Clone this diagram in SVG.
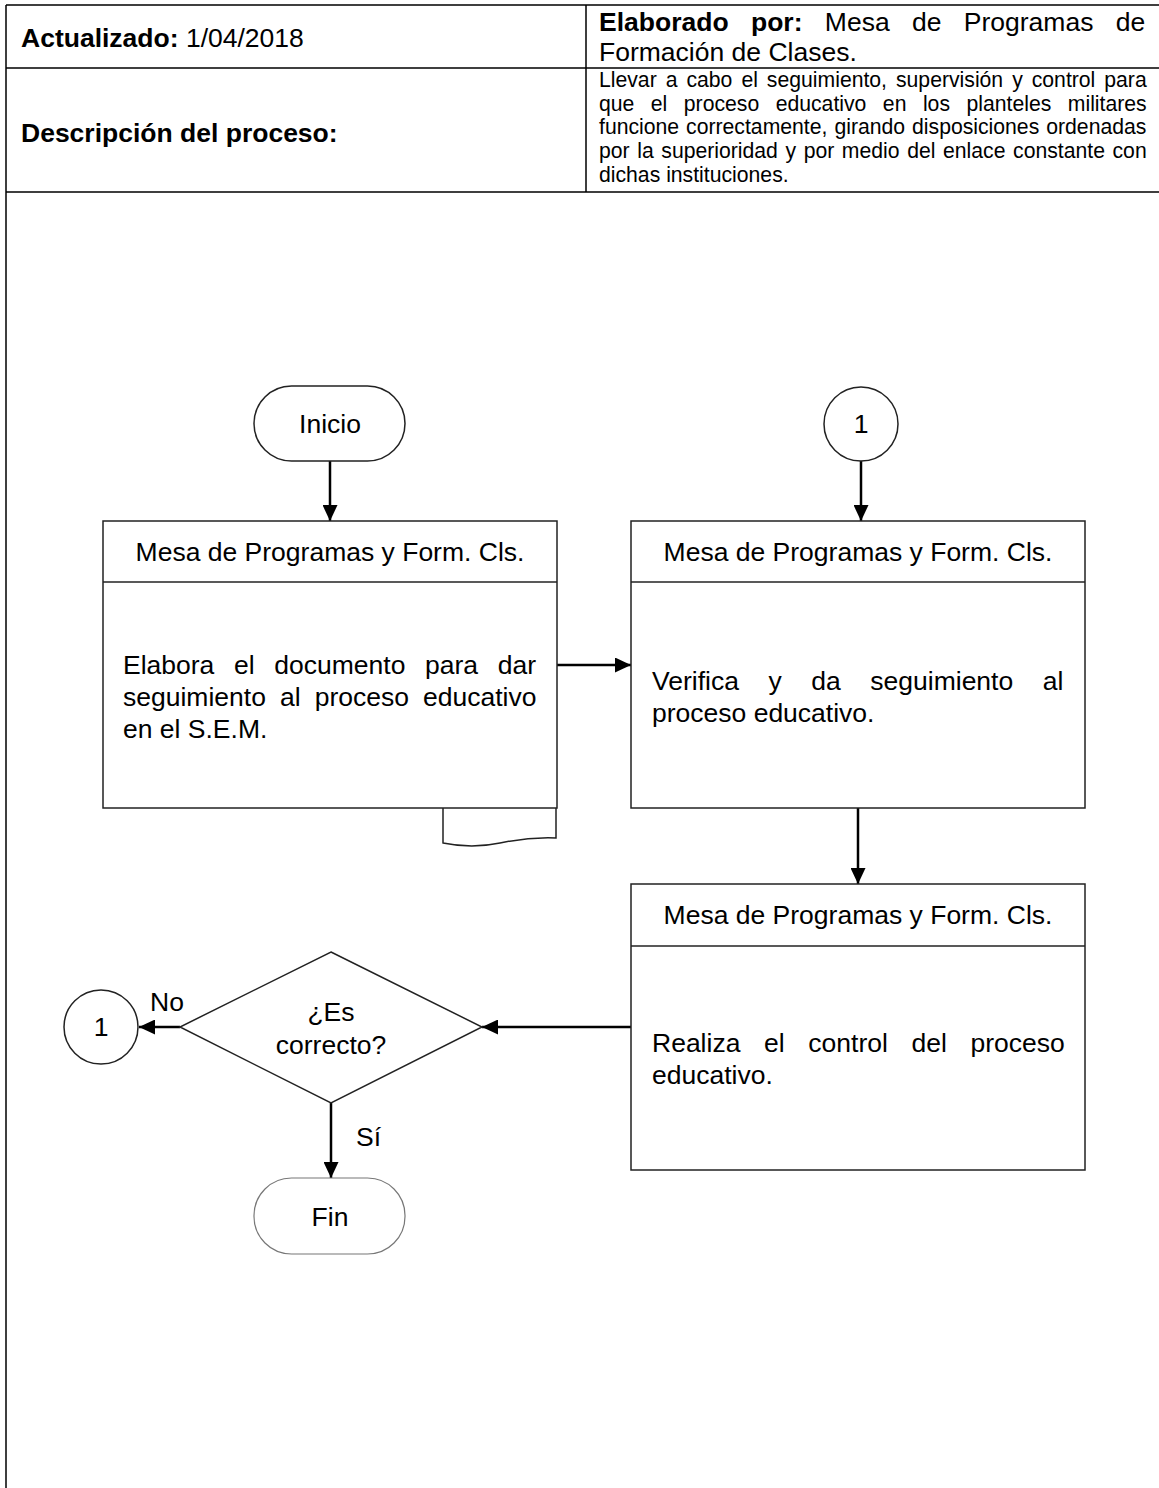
<svg xmlns="http://www.w3.org/2000/svg" width="1159" height="1488" viewBox="0 0 1159 1488">
<style>
text{font-family:"Liberation Sans",Arial,sans-serif;fill:#000}
.h{font-size:26.5px}
.d{font-size:21.2px}
.b{font-weight:bold}
.grid{stroke:#000;stroke-width:1.5;fill:none}
.box{fill:#fff;stroke:#222;stroke-width:1.5}
.conn{stroke:#000;stroke-width:2.5;fill:none}
.mid{text-anchor:middle}
</style>
<defs>
<marker id="ah" markerUnits="userSpaceOnUse" markerWidth="17" markerHeight="15" refX="16" refY="7.5" orient="auto">
<path d="M0,0 L16,7.5 L0,15 z" fill="#000"/>
</marker>
</defs>
<rect width="1159" height="1488" fill="#fff"/>
<g id="table">
<path class="grid" d="M6,5 H1159 M6,68 H1159 M6,192 H1159 M6,5 V1488 M586,5 V192"/>
<text class="h" x="21" y="47"><tspan class="b">Actualizado:</tspan> 1/04/2018</text>
<text class="h" x="599" y="31" style="word-spacing:15px"><tspan class="b">Elaborado por:</tspan> Mesa de Programas de</text>
<text class="h" x="599" y="61">Formación de Clases.</text>
<text class="h b" x="21" y="142">Descripción del proceso:</text>
<text class="d" x="599" y="87" style="word-spacing:3.1px">Llevar a cabo el seguimiento, supervisión y control para</text>
<text class="d" x="599" y="110.7" style="word-spacing:10.6px">que el proceso educativo en los planteles militares</text>
<text class="d" x="599" y="134.4" style="word-spacing:1.1px">funcione correctamente, girando disposiciones ordenadas</text>
<text class="d" x="599" y="158.1" style="word-spacing:1.7px">por la superioridad y por medio del enlace constante con</text>
<text class="d" x="599" y="181.8">dichas instituciones.</text>
</g>
<g id="connectors">
<line class="conn" x1="330" y1="461" x2="330" y2="521" marker-end="url(#ah)"/>
<line class="conn" x1="861" y1="461" x2="861" y2="521" marker-end="url(#ah)"/>
<line class="conn" x1="557" y1="665" x2="631" y2="665" marker-end="url(#ah)"/>
<line class="conn" x1="858" y1="808" x2="858" y2="884" marker-end="url(#ah)"/>
<line class="conn" x1="631" y1="1027" x2="482" y2="1027" marker-end="url(#ah)"/>
<line class="conn" x1="180" y1="1027" x2="139" y2="1027" marker-end="url(#ah)"/>
<line class="conn" x1="331" y1="1103" x2="331" y2="1178" marker-end="url(#ah)"/>
<text class="h" x="150" y="1011">No</text>
<text class="h" x="356" y="1146">Sí</text>
</g>
<g id="inicio">
<rect class="box" x="254" y="386" width="151" height="75" rx="37.5" ry="37.5"/>
<text class="h mid" x="330" y="433">Inicio</text>
</g>
<g id="conector-1-entrada">
<circle class="box" cx="861" cy="424" r="37"/>
<text class="h mid" x="861" y="433">1</text>
</g>
<g id="proceso-elabora">
<path class="box" d="M443,808 L443,843 Q472,849 500,843 T556,838 L556,808"/>
<rect class="box" x="103" y="521" width="454" height="287"/>
<line class="box" x1="103" y1="582" x2="557" y2="582"/>
<text class="h mid" x="330" y="561">Mesa de Programas y Form. Cls.</text>
<text class="h" x="123" y="674" style="word-spacing:12.3px">Elabora el documento para dar</text>
<text class="h" x="123" y="706" style="word-spacing:6.7px">seguimiento al proceso educativo</text>
<text class="h" x="123" y="738">en el S.E.M.</text>
</g>
<g id="proceso-verifica">
<rect class="box" x="631" y="521" width="454" height="287"/>
<line class="box" x1="631" y1="582" x2="1085" y2="582"/>
<text class="h mid" x="858" y="561">Mesa de Programas y Form. Cls.</text>
<text class="h" x="652" y="690" style="word-spacing:22.2px">Verifica y da seguimiento al</text>
<text class="h" x="652" y="722">proceso educativo.</text>
</g>
<g id="proceso-control">
<rect class="box" x="631" y="884" width="454" height="286"/>
<line class="box" x1="631" y1="946" x2="1085" y2="946"/>
<text class="h mid" x="858" y="924">Mesa de Programas y Form. Cls.</text>
<text class="h" x="652" y="1052" style="word-spacing:16.3px">Realiza el control del proceso</text>
<text class="h" x="652" y="1084">educativo.</text>
</g>
<g id="decision">
<polygon class="box" points="331,952 482,1027 331,1103 180,1027"/>
<text class="h mid" x="331" y="1021">¿Es</text>
<text class="h mid" x="331" y="1054">correcto?</text>
</g>
<g id="conector-1-salida">
<circle class="box" cx="101" cy="1027" r="37"/>
<text class="h mid" x="101" y="1036">1</text>
</g>
<g id="fin">
<rect x="254" y="1178" width="151" height="76" rx="37.5" ry="37.5" fill="#fff" stroke="#777" stroke-width="1.2"/>
<text class="h mid" x="330" y="1226">Fin</text>
</g>
</svg>
